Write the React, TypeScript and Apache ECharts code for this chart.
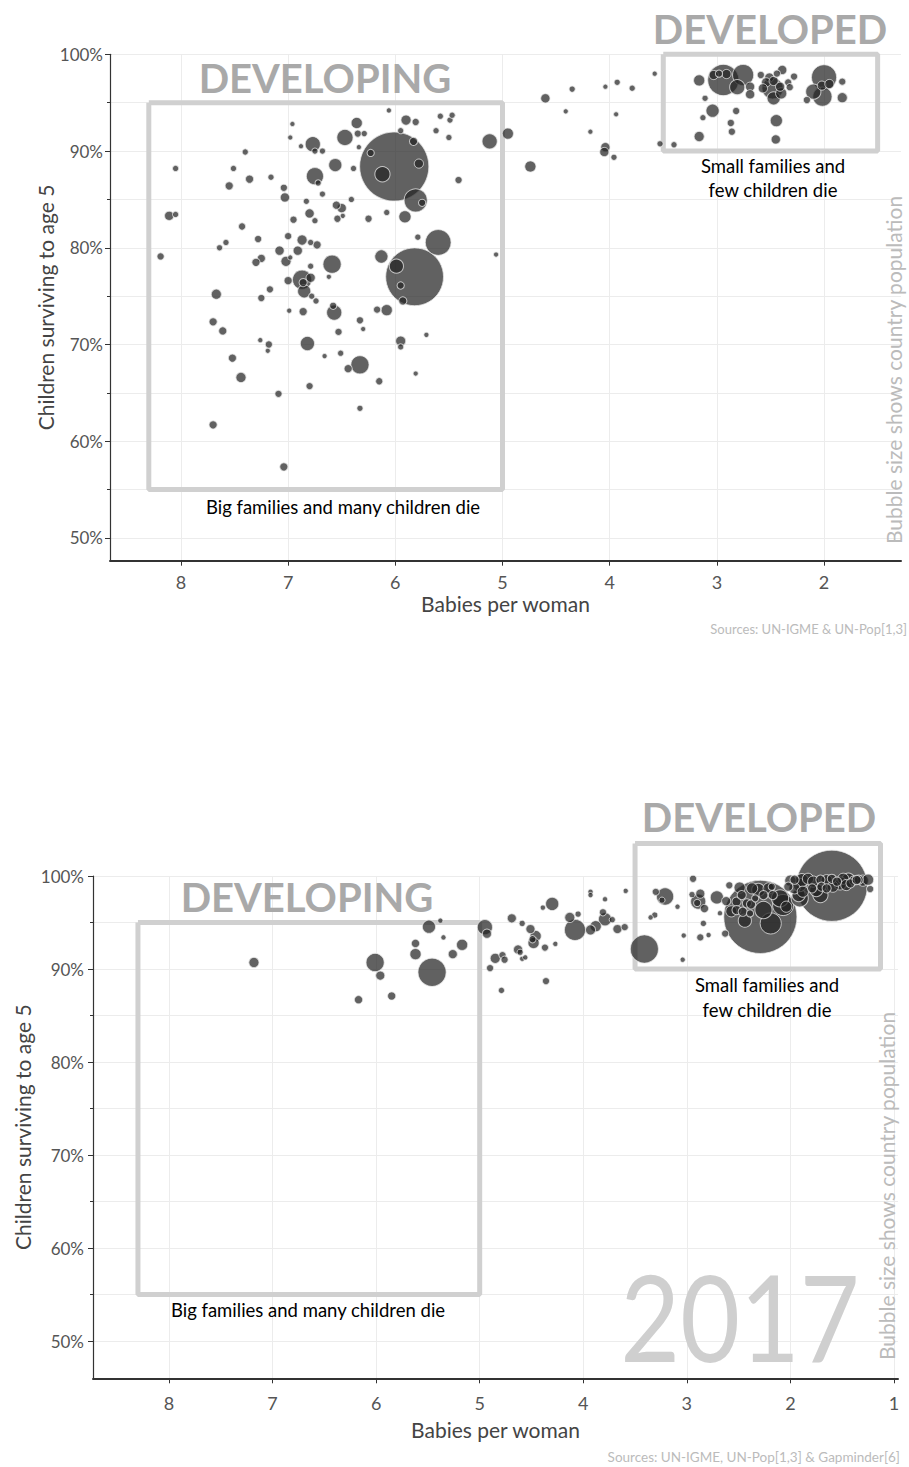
import React, { useEffect, useRef } from 'react';
import * as echarts from 'echarts';

// ---------- Chart 1 (earlier year) ----------
const earlyBabies = [
  4.60, 6.01, 6.12, 6.23, 5.83, 5.78, 5.81, 5.75, 5.91, 5.60,
  5.82, 5.99, 5.95, 5.93, 6.13, 5.79, 5.06, 5.12, 4.95, 4.74,
  5.41, 5.50, 5.49, 5.47, 5.58, 5.62, 5.81, 5.90, 5.95, 6.06,
  6.36, 6.35, 6.29, 6.34, 6.47, 6.77, 6.75, 6.68, 6.88, 6.96,
  6.98, 7.40, 8.05, 7.51, 6.56, 6.39, 6.75, 6.72, 6.68, 6.41,
  7.36, 7.16, 7.55, 7.04, 7.03, 6.83, 6.55, 6.50, 6.80, 6.75,
  6.95, 6.54, 6.49, 6.25, 6.08, 8.11, 8.05, 7.43, 7.00, 7.28,
  7.58, 7.64, 8.19, 6.87, 6.79, 6.73, 7.08, 6.91, 7.25, 7.30,
  7.02, 6.98, 6.59, 6.79, 6.62, 6.87, 6.85, 6.79, 7.00, 6.78,
  6.74, 7.17, 7.25, 7.67, 7.70, 7.61, 6.99, 6.86, 6.57, 6.58,
  6.33, 6.30, 6.17, 6.08, 6.53, 6.82, 7.18, 7.26, 7.19, 7.52,
  7.44, 6.66, 6.51, 6.33, 6.44, 5.95, 5.95, 5.71, 5.81, 6.15,
  6.80, 7.09, 6.33, 7.70, 7.04, 6.86, 4.35, 4.41, 4.04, 3.93,
  3.79, 3.94, 4.18, 4.04, 4.05, 3.96, 3.58, 3.53, 3.40, 3.165,
  2.94, 3.03, 2.98, 2.91, 2.755, 2.81, 2.69, 2.69, 3.11, 3.04,
  3.13, 2.82, 2.87, 2.86, 3.165, 2.59, 2.51, 2.44, 2.39, 2.28,
  2.54, 2.47, 2.41, 2.48, 2.57, 2.335, 2.32, 2.40, 2.47, 2.445,
  2.45, 2.00, 2.10, 2.02, 1.95, 2.015, 2.16, 1.83, 1.83,
];
const earlySurvival = [
  95.45, 88.4, 87.6, 89.8, 91.0, 88.7, 84.9, 84.65, 83.2, 80.55,
  77.0, 78.1, 76.1, 74.5, 79.1, 81.1, 79.3, 91.0, 91.8, 88.4,
  87.0, 91.4, 93.2, 93.7, 93.6, 92.1, 93.0, 93.2, 92.1, 94.2,
  92.9, 91.8, 91.8, 90.4, 91.4, 90.7, 90.0, 90.0, 90.5, 92.8,
  91.4, 89.9, 88.2, 88.2, 88.55, 88.2, 87.4, 86.7, 85.55, 85.0,
  87.1, 87.3, 86.4, 86.2, 85.2, 84.8, 84.4, 84.1, 83.55, 82.8,
  82.9, 83.0, 83.3, 83.0, 83.65, 83.3, 83.45, 82.2, 81.2, 80.9,
  80.55, 80.0, 79.1, 80.8, 80.55, 80.3, 79.7, 79.7, 78.9, 78.5,
  78.6, 79.0, 78.3, 78.1, 77.0, 76.7, 75.5, 76.9, 76.6, 75.0,
  74.5, 75.7, 74.8, 75.2, 72.35, 71.4, 73.5, 73.4, 73.3, 74.0,
  72.5, 71.6, 73.6, 73.55, 71.3, 70.1, 70.0, 70.45, 69.35, 68.6,
  66.6, 68.8, 69.1, 67.9, 67.5, 70.35, 69.75, 71.0, 67.0, 66.2,
  65.7, 64.9, 63.4, 61.7, 57.35, 76.4, 96.4, 94.1, 96.65, 97.1,
  96.5, 93.8, 92.0, 90.4, 89.9, 89.35, 98.0, 90.75, 90.65, 97.3,
  97.34, 97.86, 98.0, 97.96, 97.86, 96.6, 96.65, 95.86, 95.45, 94.17,
  93.45, 94.14, 92.9, 92.0, 91.5, 97.86, 97.6, 98.0, 98.38, 97.7,
  97.1, 97.24, 96.65, 96.48, 96.48, 97.1, 96.6, 95.96, 95.45, 93.14,
  91.2, 97.62, 96.14, 96.76, 96.93, 95.62, 95.27, 97.17, 95.52,
];
const earlyPopulation = [
  9.7, 700, 29.7, 5.5, 7.4, 9.7, 73.3, 5.5, 18.3, 91.6,
  485, 25.6, 5.5, 7.4, 21.8, 3.8, 2.4, 29.7, 15.1, 15.1,
  5.5, 3.8, 3.8, 3.8, 3.8, 3.8, 5.5, 12.3, 3.8, 2.4,
  15.1, 5.5, 3.8, 2.4, 34.1, 29.7, 3.8, 3.8, 2.4, 2.4,
  2.4, 3.8, 3.8, 3.8, 21.8, 3.8, 38.8, 3.8, 3.8, 3.8,
  7.4, 3.8, 7.4, 5.5, 9.7, 3.8, 7.4, 9.7, 9.7, 3.8,
  5.5, 5.5, 2.4, 5.5, 3.8, 9.7, 3.8, 5.5, 5.5, 5.5,
  3.8, 3.8, 5.5, 12.3, 3.8, 7.4, 9.7, 9.7, 7.4, 7.4,
  12.3, 2.4, 43.8, 3.8, 2.4, 49.1, 21.8, 9.7, 7.4, 3.8,
  3.8, 5.5, 5.5, 12.3, 7.4, 7.4, 2.4, 7.4, 29.7, 5.5,
  5.5, 2.4, 5.5, 15.1, 5.5, 25.6, 5.5, 2.4, 2.4, 7.4,
  12.3, 2.4, 3.8, 43.8, 7.4, 12.3, 3.8, 2.4, 2.4, 5.5,
  5.5, 5.5, 3.8, 7.4, 7.4, 7.4, 3.8, 2.4, 2.4, 3.8,
  3.8, 2.4, 2.4, 9.7, 9.7, 3.8, 2.4, 3.8, 3.8, 15.1,
  136, 9.7, 5.5, 9.7, 60.6, 29.7, 9.7, 9.7, 3.8, 21.8,
  3.8, 5.5, 5.5, 5.5, 12.3, 5.5, 9.7, 5.5, 9.7, 5.5,
  9.7, 9.7, 9.7, 60.6, 9.7, 5.5, 5.5, 15.1, 21.8, 18.3,
  9.7, 87.2, 29.7, 9.7, 9.7, 49.1, 5.5, 5.5, 12.3,
];

// ---------- Chart 2 (2017) ----------
const babies2017 = [
  7.18, 6.01, 5.96, 6.17, 5.85, 5.46, 5.49, 5.38, 5.35, 5.62,
  5.62, 5.26, 5.17, 4.95, 4.93, 4.85, 4.90, 4.78, 4.76, 4.79,
  4.69, 4.59, 4.51, 4.46, 4.49, 4.48, 4.63, 4.61, 4.59, 4.56,
  4.37, 4.27, 4.36, 4.30, 4.39, 4.13, 4.05, 4.08, 3.93, 3.88,
  3.81, 3.79, 3.72, 3.67, 3.60, 3.93, 3.93, 3.79, 3.59, 3.41,
  3.30, 3.21, 3.24, 3.35, 3.31, 3.09, 3.03, 3.04, 2.94, 2.95,
  2.87, 2.89, 2.90, 2.84, 2.87, 2.79, 2.83, 2.71, 2.63, 2.68,
  2.59, 2.49, 2.29, 1.60, 2.52, 2.47, 2.42, 2.37, 2.31, 2.26,
  2.21, 2.17, 2.18, 2.52, 2.46, 2.38, 2.34, 2.39, 2.26, 2.19,
  2.07, 2.10, 2.04, 1.92, 1.91, 2.00, 1.96, 1.89, 1.83, 1.78,
  1.71, 1.65, 1.60, 1.55, 1.49, 1.44, 1.39, 1.34, 1.30, 1.25,
  1.23, 2.02, 1.96, 1.88, 1.91, 1.79, 1.75, 1.70, 1.65, 1.59,
  1.52, 1.46, 1.42, 1.36, 1.71, 2.62, 2.57, 2.44,
];
const survival2017 = [
  90.7, 90.7, 89.3, 86.7, 87.1, 89.65, 94.55, 95.2, 93.4, 92.75,
  91.6, 91.6, 92.6, 94.5, 93.8, 91.15, 90.1, 91.5, 91.0, 87.7,
  95.45, 94.9, 94.3, 93.55, 93.2, 92.8, 92.1, 91.8, 91.1, 91.25,
  92.3, 92.7, 88.7, 97.0, 96.6, 95.55, 95.9, 94.2, 94.2, 94.6,
  96.1, 95.35, 95.3, 94.3, 94.5, 98.3, 97.95, 97.5, 98.4, 92.15,
  98.3, 97.8, 97.4, 95.55, 95.8, 96.7, 93.6, 91.0, 99.7, 98.0,
  98.1, 97.25, 97.1, 94.9, 93.4, 93.65, 96.5, 97.7, 93.8, 96.0,
  99.0, 98.75, 95.6, 98.95, 97.24, 97.95, 97.06, 98.67, 98.5, 97.95,
  98.67, 97.95, 98.85, 96.34, 96.16, 96.95, 97.6, 95.98, 96.34, 94.9,
  96.88, 97.6, 96.7, 97.95, 99.03, 99.5, 99.6, 99.55, 99.7, 99.4,
  99.6, 99.55, 99.7, 99.4, 99.7, 99.6, 99.5, 99.6, 99.5, 99.6,
  98.6, 98.85, 98.67, 98.31, 97.6, 98.67, 98.49, 98.85, 98.67, 98.85,
  99.21, 99.03, 99.21, 99.57, 97.95, 97.3, 96.2, 95.2,
];
const population2017 = [
  23.2, 82.6, 18.3, 14, 14, 208, 41.2, 4.6, 4.6, 14,
  28.6, 18.3, 28.6, 56, 18.3, 23.2, 10.3, 10.3, 10.3, 7.1,
  18.3, 7.1, 18.3, 28.6, 10.3, 28.6, 18.3, 7.1, 4.6, 4.6,
  10.3, 4.6, 10.3, 41.2, 4.6, 23.2, 7.1, 114, 23.2, 28.6,
  10.3, 41.2, 7.1, 18.3, 10.3, 4.6, 4.6, 4.6, 4.6, 208,
  10.3, 73.2, 7.1, 4.6, 7.1, 4.6, 4.6, 4.6, 10.3, 7.1,
  18.3, 56, 10.3, 7.1, 10.3, 4.6, 14, 41.2, 10.3, 4.6,
  10.3, 28.6, 1480, 1400, 18.3, 18.3, 18.3, 28.6, 41.2, 18.3,
  28.6, 18.3, 10.3, 18.3, 18.3, 18.3, 10.3, 10.3, 73.2, 114,
  114, 73.2, 28.6, 41.2, 41.2, 28.6, 18.3, 41.2, 28.6, 28.6,
  18.3, 28.6, 18.3, 18.3, 28.6, 41.2, 18.3, 18.3, 28.6, 28.6,
  10.3, 18.3, 28.6, 28.6, 73.2, 18.3, 41.2, 18.3, 18.3, 28.6,
  41.2, 28.6, 18.3, 18.3, 56, 18.3, 28.6, 41.2,
];

// ---------- Region boxes (data coordinates) ----------
const developingBoxX = [8.3, 5, 5, 8.3, 8.3];
const developingBoxY = [95, 95, 55, 55, 95];
const developedBoxX1 = [3.5, 1.5, 1.5, 3.5, 3.5];
const developedBoxY1 = [100, 100, 90, 90, 100];
const developedBoxX2 = [3.5, 1.13, 1.13, 3.5, 3.5];
const developedBoxY2 = [103.5, 103.5, 90, 90, 103.5];

// ---------- Tick values ----------
const xTicks1 = [2, 3, 4, 5, 6, 7, 8];
const xTicks2 = [1, 2, 3, 4, 5, 6, 7, 8];
const yLabelTicks = [50, 60, 70, 80, 90, 100];
const yMinorTicks = [50, 55, 60, 65, 70, 75, 80, 85, 90, 95, 100];

const FONT = 'Lato, "Open Sans", sans-serif';
const SCALE1 = 1.285;
const SCALE2 = 0.935;

function bubbles(b: number[], s: number[], p: number[]) {
  return b.map((x, i) => [x, s[i], p[i]]).sort((a, c) => c[2] - a[2]);
}
function poly(xs: number[], ys: number[]) {
  return xs.map((x, i) => [x, ys[i]]);
}

function xAxis(gridIndex: number, min: number, max: number, ticks: number[], margin: number, nameGap: number) {
  return {
    type: 'value', gridIndex, min, max, inverse: true,
    axisLine: { show: true, onZero: false, lineStyle: { color: '#333', width: 2 } },
    axisTick: { show: true, customValues: ticks, length: 5, lineStyle: { color: '#333', width: 1 } },
    axisLabel: { customValues: ticks, fontFamily: FONT, fontSize: 18, color: '#555', margin },
    splitLine: { show: true, lineStyle: { color: '#ececec', width: 1 } },
    name: 'Babies per woman', nameLocation: 'middle', nameGap,
    nameTextStyle: { fontFamily: FONT, fontSize: 21, color: '#444' },
  };
}
function yMain(gridIndex: number, min: number, margin: number, nameGap: number) {
  return {
    type: 'value', gridIndex, min, max: 100, position: 'left',
    axisLine: { show: true, onZero: false, lineStyle: { color: '#333', width: 1.2 } },
    axisTick: { show: true, customValues: yLabelTicks, length: 5, lineStyle: { color: '#333', width: 1 } },
    axisLabel: { customValues: yLabelTicks, formatter: '{value}%', fontFamily: FONT, fontSize: 17, color: '#555', margin },
    splitLine: { show: false },
    name: 'Children surviving to age 5', nameLocation: 'middle', nameGap, nameMoveOverlap: false,
    nameTextStyle: { fontFamily: FONT, fontSize: 21, color: '#444' },
  };
}
function yMinor(gridIndex: number, min: number) {
  return {
    type: 'value', gridIndex, min, max: 100, position: 'left',
    axisLine: { show: false },
    axisTick: { show: true, customValues: yMinorTicks, length: 3, lineStyle: { color: '#333', width: 1 } },
    axisLabel: { show: false },
    splitLine: { show: true, lineStyle: { color: '#ececec', width: 1 } },
  };
}

const bubbleStyle = { color: 'rgba(36,36,36,0.9)', borderColor: 'rgba(232,232,232,0.95)', borderWidth: 1 };
const boxStyle = { color: '#d0d0d0', width: 5 };

function txt(x: number, y: number, text: string, font: string, fill: string, extra: any = {}) {
  return {
    type: 'text', x, y, z: 100, silent: true, ...extra,
    style: { text, font, fill, textAlign: extra.align || 'center', textVerticalAlign: 'middle', align: extra.align || 'center', verticalAlign: 'middle' },
  };
}

export default function App() {
  const ref = useRef<HTMLDivElement>(null);
  useEffect(() => {
    const chart = echarts.init(ref.current!, null, { renderer: 'svg' });
    chart.setOption({
      animation: false,
      backgroundColor: '#ffffff',
      grid: [
        { left: 110, top: 54.3, width: 791, height: 506.4 },
        { left: 93, top: 876, width: 805, height: 502.3 },
      ],
      xAxis: [
        xAxis(0, 1.282, 8.662, xTicks1, 12, 32),
        xAxis(1, 0.961, 8.734, xTicks2, 16, 41),
      ],
      yAxis: [
        yMain(0, 47.65, 7, 54),
        yMinor(0, 47.65),
        yMain(1, 46, 9, 60),
        yMinor(1, 46),
      ],
      series: [
        { type: 'line', xAxisIndex: 0, yAxisIndex: 0, data: poly(developingBoxX, developingBoxY), symbol: 'none', lineStyle: boxStyle, clip: false, silent: true, z: 1 },
        { type: 'line', xAxisIndex: 0, yAxisIndex: 0, data: poly(developedBoxX1, developedBoxY1), symbol: 'none', lineStyle: boxStyle, clip: false, silent: true, z: 1 },
        { type: 'line', xAxisIndex: 1, yAxisIndex: 2, data: poly(developingBoxX, developingBoxY), symbol: 'none', lineStyle: boxStyle, clip: false, silent: true, z: 1 },
        { type: 'line', xAxisIndex: 1, yAxisIndex: 2, data: poly(developedBoxX2, developedBoxY2), symbol: 'none', lineStyle: boxStyle, clip: false, silent: true, z: 1 },
        {
          type: 'scatter', xAxisIndex: 0, yAxisIndex: 0, clip: false, z: 3,
          data: bubbles(earlyBabies, earlySurvival, earlyPopulation),
          symbolSize: (d: number[]) => 2 * SCALE1 * Math.sqrt(d[2]) + 1.2,
          itemStyle: bubbleStyle,
        },
        {
          type: 'scatter', xAxisIndex: 1, yAxisIndex: 2, clip: false, z: 3,
          data: bubbles(babies2017, survival2017, population2017),
          symbolSize: (d: number[]) => 2 * SCALE2 * Math.sqrt(d[2]) + 1.2,
          itemStyle: bubbleStyle,
        },
      ],
      graphic: [
        txt(770, 29, 'DEVELOPED', `bold 40px ${FONT}`, '#a9a9a9'),
        txt(325, 78, 'DEVELOPING', `bold 40px ${FONT}`, '#a9a9a9'),
        txt(773, 166, 'Small families and', `18.5px ${FONT}`, '#000'),
        txt(773, 190, 'few children die', `18.5px ${FONT}`, '#000'),
        txt(343, 507, 'Big families and many children die', `18.5px ${FONT}`, '#000'),
        txt(893, 370, 'Bubble size shows country population', `21px ${FONT}`, '#bbbbbb', { rotation: Math.PI / 2 }),
        txt(907, 629, 'Sources: UN-IGME & UN-Pop[1,3]', `13px ${FONT}`, '#bbbbbb', { align: 'right' }),

        txt(740, 1316, '2017', `120px ${FONT}`, '#cfcfcf', { scaleX: 0.86 }),
        txt(759, 817, 'DEVELOPED', `bold 40px ${FONT}`, '#a9a9a9'),
        txt(307, 897, 'DEVELOPING', `bold 40px ${FONT}`, '#a9a9a9'),
        txt(767, 985, 'Small families and', `18.5px ${FONT}`, '#000'),
        txt(767, 1010, 'few children die', `18.5px ${FONT}`, '#000'),
        txt(308, 1310, 'Big families and many children die', `18.5px ${FONT}`, '#000'),
        txt(886, 1186, 'Bubble size shows country population', `21px ${FONT}`, '#bbbbbb', { rotation: Math.PI / 2 }),
        txt(900, 1457, 'Sources: UN-IGME, UN-Pop[1,3] & Gapminder[6]', `13.5px ${FONT}`, '#bbbbbb', { align: 'right' }),
      ],
    });
    return () => chart.dispose();
  }, []);
  return <div ref={ref} style={{ position: 'absolute', left: 0, top: 0, width: 909, height: 1467, background: '#fff' }} />;
}
